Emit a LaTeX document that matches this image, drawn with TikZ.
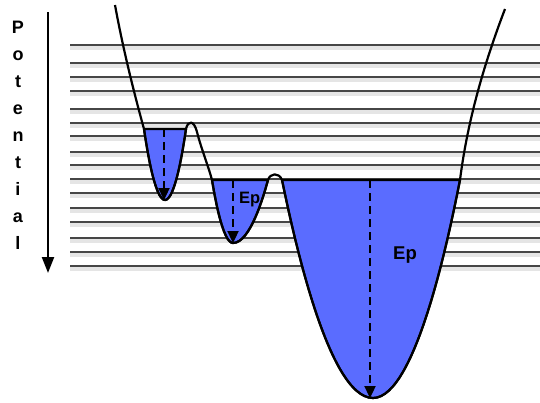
\documentclass[tikz,border=0pt]{standalone}
\usepackage{fontspec}
\setmainfont{Liberation Sans}
\usetikzlibrary{arrows.meta}
\definecolor{wellblue}{RGB}{90,108,255}
\definecolor{hline}{RGB}{70,70,70}
\begin{document}
\begin{tikzpicture}[x=1pt,y=-1pt,
  hl/.style={draw=hline,line width=1.3pt},
  hlshadow/.style={draw=black!10,line width=3.5pt},
  curve/.style={draw=black,line width=2.2pt,line join=round},
  well/.style={fill=wellblue,draw=black,line width=2.2pt,line join=round},
  dasharrow/.style={draw=black,line width=2.3pt,dash pattern=on 8pt off 5pt,-{Triangle[length=12pt,width=11pt]}},
  axisarrow/.style={draw=black,line width=2.2pt,-{Triangle[length=16pt,width=12pt]}},
  letter/.style={font=\fontsize{18}{18}\selectfont\bfseries,anchor=base,inner sep=0pt},
  eplabel/.style={font=\bfseries,anchor=base west,inner sep=0pt}]
\useasboundingbox (0,0) rectangle (540,402);
\fill[white] (0,0) rectangle (540,402);
% energy levels
\foreach \y in {45,63,77,91,109,123,136,152,165,179,193,208,222,238,252,266} {
  \draw[hlshadow] (70,\y+3) -- (540,\y+3);
  \draw[hl] (70,\y) -- (540,\y);
}
% wells
\path[well] (144,129) parabola bend (165,200) (186,129) -- cycle;
\path[well] (212,180) parabola bend (233,243) (268,180) -- cycle;
\path[well] (282,180) parabola bend (373,398) (460,180) -- cycle;
% potential curve
\draw[curve] (115,5) .. controls (121.7,41.7) and (131.3,83) .. (144,129)
  parabola bend (165,200) (186,129)
  .. controls (188,120) and (194,120) .. (197,132)
  .. controls (201,148) and (208,165) .. (212,180)
  parabola bend (233,243) (268,180)
  .. controls (270,173) and (279,172) .. (282,180)
  parabola bend (373,398) (460,180)
  .. controls (466.7,126.7) and (481.7,69.7) .. (505,9);
% depth arrows
\coordinate (a1) at (164,129); \coordinate (b1) at (164,200);
\coordinate (a2) at (233,180); \coordinate (b2) at (233,243);
\coordinate (a3) at (370,180); \coordinate (b3) at (370,398);
\draw[dasharrow] (a1) -- (b1);
\draw[dasharrow] (a2) -- (b2);
\draw[dasharrow] (a3) -- (b3);
% axis
\coordinate (ax1) at (48,12); \coordinate (ax2) at (48,273);
\draw[axisarrow] (ax1) -- (ax2);
\foreach \c [count=\i] in {P,o,t,e,n,t,i,a,l}
  \node[letter] (p\i) at (18,{33+27*(\i-1)}) {\c};
% labels
\node[eplabel,font=\fontsize{16.5}{16.5}\selectfont\bfseries] (ep1) at (239,203) {Ep};
\node[eplabel,font=\fontsize{18.5}{18.5}\selectfont\bfseries] (ep2) at (393,259) {Ep};
\end{tikzpicture}
\end{document}
